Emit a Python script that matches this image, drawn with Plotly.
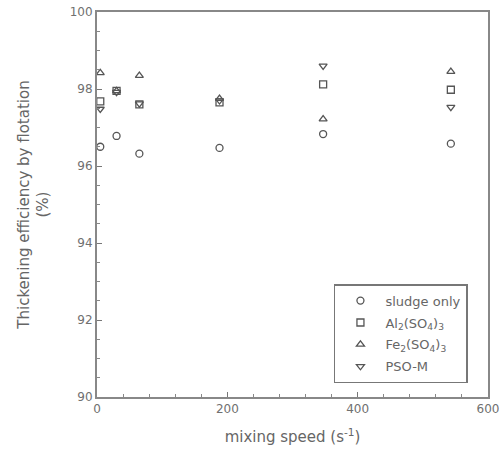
import plotly.graph_objects as go

speed = [5, 30, 65, 188, 347, 543]
sludge_only = [96.5, 96.78, 96.32, 96.47, 96.83, 96.58]
al2so4 = [97.68, 97.95, 97.6, 97.65, 98.12, 97.98]
fe2so4 = [98.42, 97.95, 98.35, 97.75, 97.22, 98.45]
pso_m = [97.48, 97.92, 97.62, 97.7, 98.6, 97.53]

series = [
    ("sludge only", sludge_only, "circle-open"),
    ("Al<sub>2</sub>(SO<sub>4</sub>)<sub>3</sub>", al2so4, "square-open"),
    ("Fe<sub>2</sub>(SO<sub>4</sub>)<sub>3</sub>", fe2so4, "triangle-up-open"),
    ("PSO-M", pso_m, "triangle-down-open"),
]

FONT = "DejaVu Sans, Liberation Sans, Arial"

fig = go.Figure()
for i, (name, vals, sym) in enumerate(series):
    fig.add_trace(go.Scatter(
        x=speed, y=vals, mode="markers", name=name, legendgroup=f"g{i}",
        marker=dict(symbol=sym, size=7, color="#555555", line=dict(width=1.3, color="#555555")),
    ))

axis_common = dict(
    showline=True, linecolor="#888888", linewidth=2, mirror=True,
    ticks="inside", ticklen=5, tickcolor="#777777", tickwidth=1,
    showgrid=False, zeroline=False, automargin=False, ticklabeloverflow="allow",
    tickfont=dict(family=FONT, size=12, color="#707070"),
)

fig.update_layout(
    width=504, height=460,
    margin=dict(l=97, r=16, t=12, b=63),
    paper_bgcolor="white", plot_bgcolor="white",
    font=dict(family=FONT, color="#666666"),
    xaxis=dict(range=[0, 600], dtick=200, tick0=0,
               minor=dict(ticks="inside", ticklen=3, dtick=40, tickcolor="#888888"),
               title=dict(text="mixing speed (s<sup>-1</sup>)", font=dict(size=15, color="#666666"), standoff=16),
               **axis_common),
    yaxis=dict(range=[90, 100], dtick=2, tick0=90,
               minor=dict(ticks="inside", ticklen=3, dtick=0.5, tickcolor="#888888"),
               title=dict(text="Thickening efficiency by flotation<br>(%)", font=dict(size=15, color="#666666"), standoff=17),
               **axis_common),
    legend=dict(x=0.606, y=0.036, xanchor="left", yanchor="bottom",
                bordercolor="#777777", borderwidth=1.5, bgcolor="white",
                font=dict(size=13, color="#666666"), tracegroupgap=2, itemwidth=40),
    showlegend=True,
)

fig.write_html("out.html", config={"displayModeBar": False},
               post_script="document.body.style.margin='0';")
